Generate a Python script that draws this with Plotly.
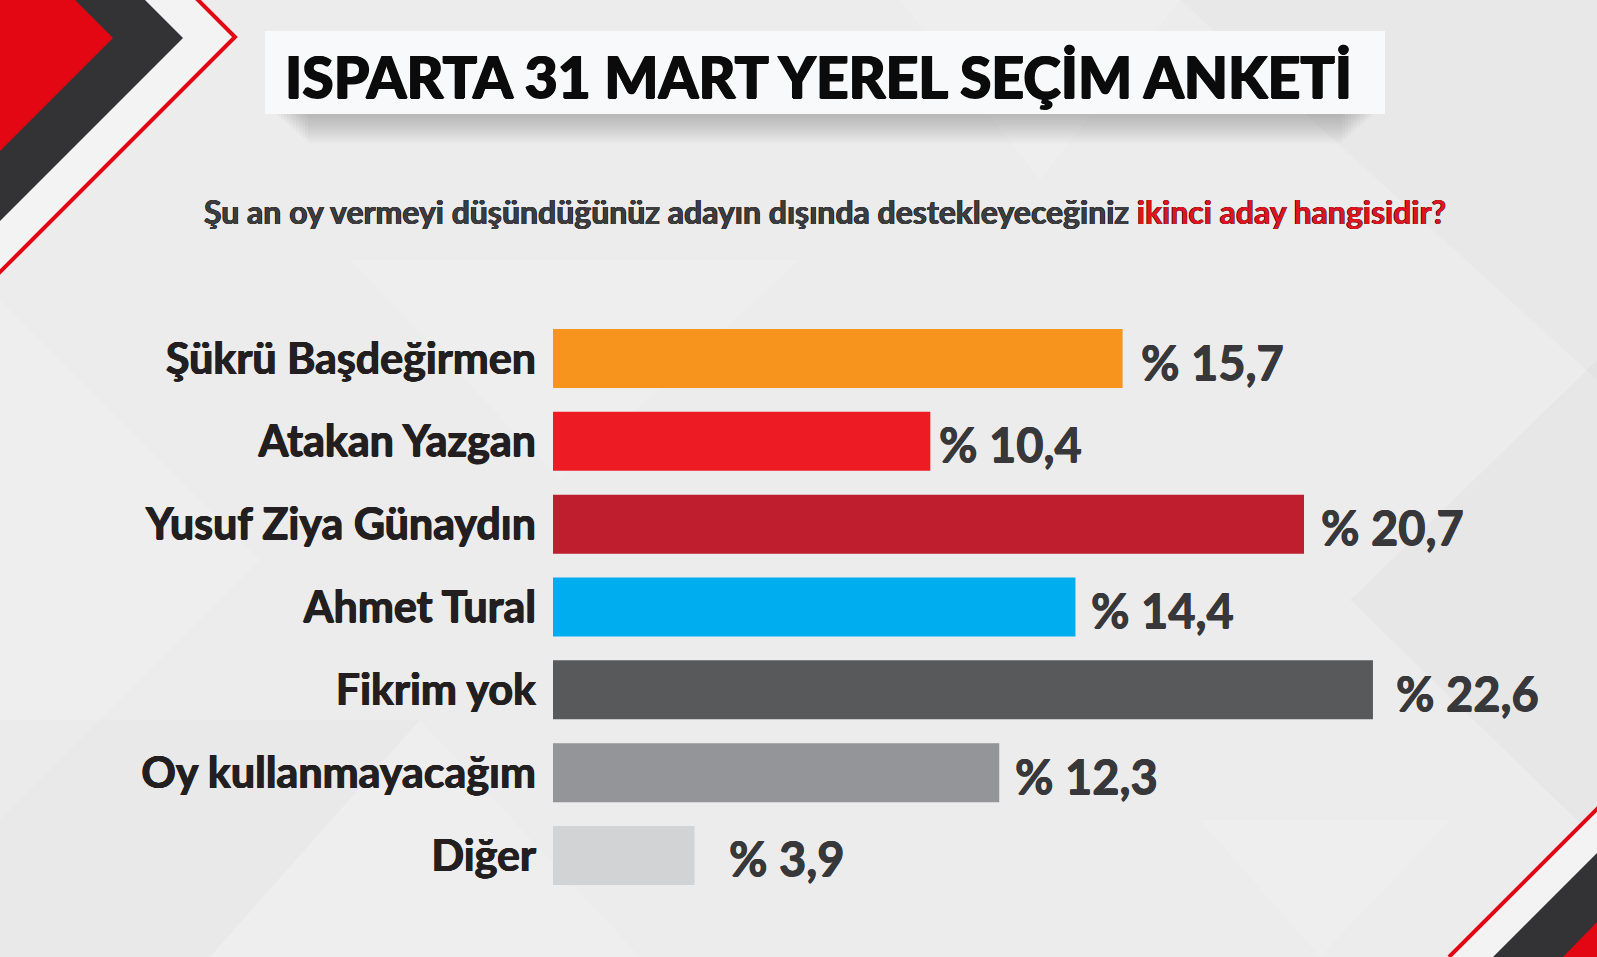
import plotly.graph_objects as go

W, H = 1597, 957

categories = ["Şükrü Başdeğirmen", "Atakan Yazgan", "Yusuf Ziya Günaydın", "Ahmet Tural",
              "Fikrim yok", "Oy kullanmayacağım", "Diğer"]
values = [15.7, 10.4, 20.7, 14.4, 22.6, 12.3, 3.9]
bar_colors = ["#f7941d", "#ed1c24", "#be1e2d", "#00aeef", "#58595b", "#939598", "#d1d3d4"]
label_gaps = [16, 7, 15, 14, 21, 14, 33]

title_text = "ISPARTA 31 MART YEREL SEÇİM ANKETİ"
subtitle_main = "Şu an oy vermeyi düşündüğünüz adayın dışında destekleyeceğiniz "
subtitle_red = "ikinci aday hangisidir?"


def px(x):
    return x / W


def py(y):
    return 1 - y / H


def path(points, close=True):
    s = "M " + " L ".join(f"{px(x):.5f},{py(y):.5f}" for x, y in points)
    return s + (" Z" if close else "")


shapes = []


def add_poly(points, color, layer="below"):
    shapes.append(dict(type="path", xref="paper", yref="paper", path=path(points),
                       fillcolor=color, line=dict(width=0), layer=layer))


def add_line(points, color, width):
    shapes.append(dict(type="path", xref="paper", yref="paper", path=path(points, close=False),
                       fillcolor="rgba(0,0,0,0)", line=dict(width=width, color=color), layer="below"))


# subtle background facets
add_poly([(0, 300), (260, 560), (0, 820)], "rgba(255,255,255,0.12)")
add_poly([(0, 720), (420, 720), (210, 957), (0, 957)], "rgba(0,0,0,0.012)")
add_poly([(420, 720), (640, 957), (210, 957)], "rgba(255,255,255,0.12)")
add_poly([(1180, 0), (1597, 0), (1597, 380)], "rgba(0,0,0,0.015)")
add_poly([(1350, 600), (1597, 360), (1597, 840)], "rgba(0,0,0,0.018)")
add_poly([(1200, 820), (1450, 820), (1320, 957)], "rgba(255,255,255,0.12)")
add_poly([(900, 0), (1180, 0), (1040, 180)], "rgba(255,255,255,0.15)")
add_poly([(350, 260), (800, 260), (560, 480)], "rgba(255,255,255,0.1)")

# top-left decoration
add_poly([(0, 0), (196, 0), (233, 37), (0, 270)], "#f3f3f3")
add_poly([(0, 0), (145, 0), (183, 38), (0, 221)], "#333234")
add_poly([(0, 0), (75, 0), (113, 38), (0, 151)], "#e30613")
add_line([(196, -2), (235, 37), (-2, 274)], "#e30613", 4)

# bottom-right decoration
add_poly([(1597, 810), (1597, 957), (1450, 957)], "#f3f3f3")
add_poly([(1597, 853), (1597, 957), (1493, 957)], "#333234")
add_poly([(1597, 922), (1597, 957), (1563, 957)], "#e30613")
add_line([(1600, 806), (1449, 957)], "#e30613", 4)

# title shadow (soft)
for i in range(1, 13):
    shapes.append(dict(type="rect", xref="paper", yref="paper",
                       x0=px(272 + 3 * i), x1=px(1378 - 3 * i),
                       y0=py(100), y1=py(112 + 2.6 * i),
                       fillcolor="rgba(0,0,0,0.02)", line=dict(width=0), layer="below"))
# title box
shapes.append(dict(type="rect", xref="paper", yref="paper",
                   x0=px(265), x1=px(1385), y0=py(31), y1=py(114),
                   fillcolor="#f8f9fa", line=dict(width=0), layer="below"))


def bold_shadow(color, d=0.6):
    return f"{d}px 0 0 {color}, -{d}px 0 0 {color}, 0 {d}px 0 {color}"


fig = go.Figure()
fig.add_trace(go.Bar(
    y=categories, x=values, orientation="h",
    marker=dict(color=bar_colors, line=dict(width=0)),
    width=0.712, hoverinfo="skip",
))

val_color = "#38383a"
annotations = []
for cat, v, g in zip(categories, values, label_gaps):
    annotations.append(dict(
        x=v, y=cat, xref="x", yref="y", xanchor="left", yanchor="middle",
        xshift=g, yshift=-3, showarrow=False,
        text=f"% {v:.1f}".replace(".", ","),
        font=dict(family="Lato", size=47, color=val_color, weight=700,
                  shadow=bold_shadow(val_color, 0.5)),
    ))

annotations.append(dict(
    x=px(818), y=py(76), xref="paper", yref="paper", xanchor="center", yanchor="middle",
    showarrow=False, text=title_text,
    font=dict(family="Lato", size=57, color="#0b0b0b", weight=900,
              shadow=bold_shadow("#0b0b0b", 0.8)),
))
sub_color = "#3d3d3f"
annotations.append(dict(
    x=px(825), y=py(212), xref="paper", yref="paper", xanchor="center", yanchor="middle",
    showarrow=False,
    text=subtitle_main + f"<span style='color:#e0141e'>{subtitle_red}</span>",
    font=dict(family="Lato", size=32, color=sub_color, weight=700,
              shadow="0.5px 0 0 currentColor, -0.5px 0 0 currentColor"),
))

lab_color = "#231f20"
fig.update_layout(
    width=W, height=H,
    margin=dict(l=0, r=0, t=0, b=0),
    paper_bgcolor="#ececec", plot_bgcolor="rgba(0,0,0,0)",
    showlegend=False,
    shapes=shapes,
    annotations=annotations,
    xaxis=dict(domain=[px(553), 1], range=[0, 1044 / 36.28], visible=False, fixedrange=True),
    yaxis=dict(domain=[1 - 896.9 / H, 1 - 317.1 / H], autorange="reversed",
               categoryorder="array", categoryarray=categories,
               showgrid=False, zeroline=False, showline=False, ticks="",
               ticklabelstandoff=16, automargin=False,
               tickfont=dict(family="Lato", size=43, color=lab_color, weight=700,
                             shadow=bold_shadow(lab_color, 0.6))),
    bargap=0.288,
)

fig.write_html("out.html")
